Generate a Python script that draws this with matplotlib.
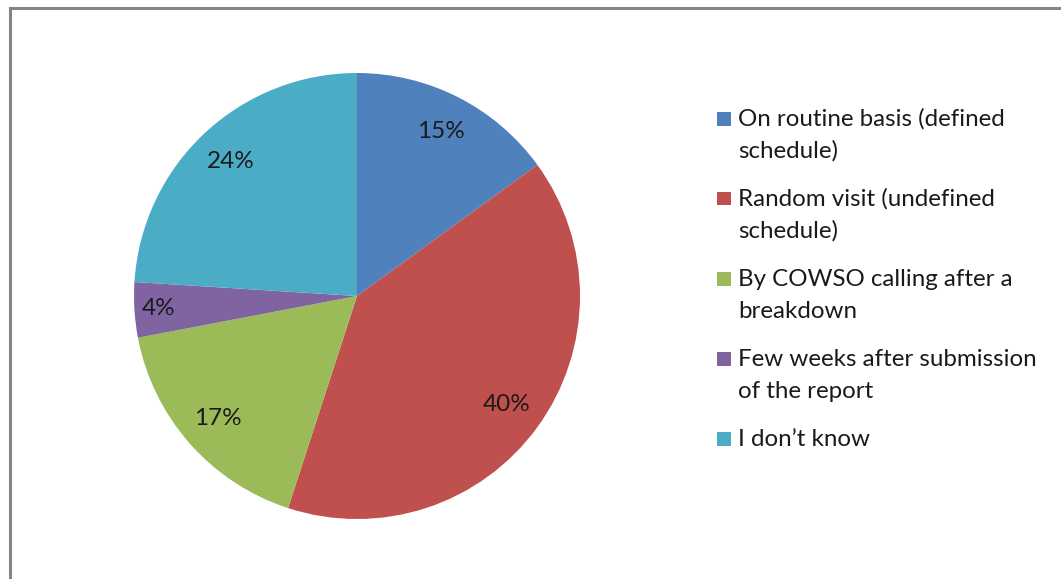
import matplotlib.pyplot as plt
from matplotlib.patches import Rectangle

# response shares (percent)
labels = [['On routine basis (defined', 'schedule)'],
          ['Random visit (undefined', 'schedule)'],
          ['By COWSO calling after a', 'breakdown'],
          ['Few weeks after submission', 'of the report'],
          ['I don\u2019t know']]
shares = [15, 40, 17, 4, 24]
colors = ['#4F81BD', '#C0504D', '#9BBB59', '#8064A2', '#4BACC6']

plt.rcParams['font.family'] = ['Lato', 'DejaVu Sans']

W, H = 1061, 579
fig = plt.figure(figsize=(W / 100, H / 100), dpi=100)
fig.patch.set_facecolor('white')

# outer chart frame
fig.add_artist(Rectangle((9.5 / W, -0.05), 1.1, 1 - 8 / H + 0.05, transform=fig.transFigure,
                         facecolor='none', edgecolor='#858585', linewidth=2.2))

# pie in a square axes
cx, cy, r = 357, 296, 223
ax = fig.add_axes([(cx - r) / W, (H - cy - r) / H, 2 * r / W, 2 * r / H])
wedges, texts, autotexts = ax.pie(shares, colors=colors, startangle=90, counterclock=False,
                                  autopct='%d%%', pctdistance=0.83,
                                  wedgeprops=dict(linewidth=0),
                                  textprops=dict(fontsize=17.5, color='#1a1a1a'))
# small slice label sits a bit further out
x, y = autotexts[3].get_position()
autotexts[3].set_position((x * 0.89 / 0.83, y * 0.89 / 0.83))
ax.set_xlim(-1, 1)
ax.set_ylim(-1, 1)
ax.set_aspect('equal')
ax.axis('off')

# legend drawn by hand so markers line up with the first text line
base = 126
step = 80
line_gap = 32
for i, (lines, c) in enumerate(zip(labels, colors)):
    yb = base + i * step
    fig.add_artist(Rectangle((717 / W, 1 - (yb - 0.5) / H), 13.5 / W, 13.5 / H,
                             transform=fig.transFigure, facecolor=c, edgecolor='none'))
    for j, txt in enumerate(lines):
        fig.text(738 / W, 1 - (yb + j * line_gap) / H, txt, fontsize=17.4,
                 color='#1a1a1a', va='baseline', ha='left')

fig.savefig('out.png', dpi=100, facecolor='white')
